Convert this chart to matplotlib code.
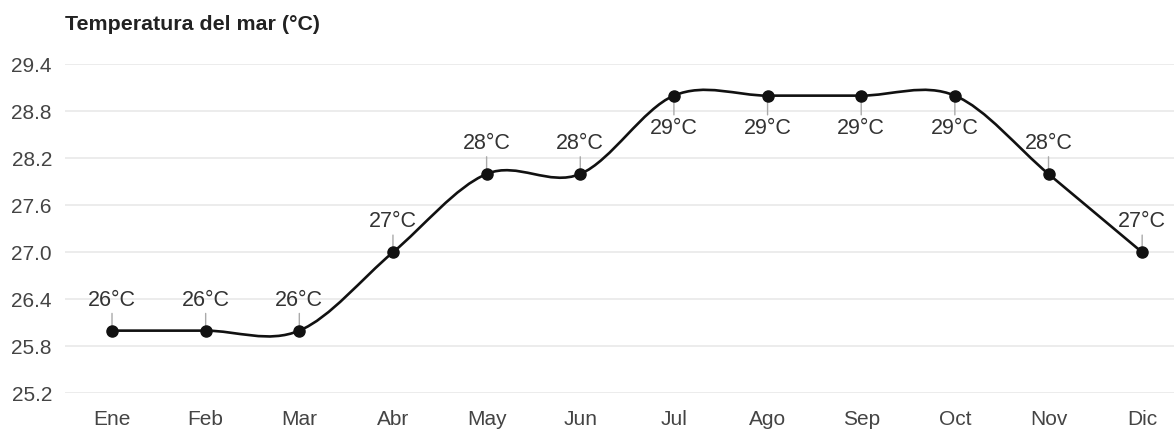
import matplotlib
matplotlib.use("Agg")
import matplotlib.pyplot as plt
from matplotlib.path import Path
from matplotlib.patches import PathPatch
import numpy as np

months = ["Ene", "Feb", "Mar", "Abr", "May", "Jun", "Jul", "Ago", "Sep", "Oct", "Nov", "Dic"]
temps = [26, 26, 26, 27, 28, 28, 29, 29, 29, 29, 28, 27]
labels = ["26°C", "26°C", "26°C", "27°C", "28°C", "28°C", "29°C", "29°C", "29°C", "29°C", "28°C", "27°C"]
yticks = [25.2, 25.8, 26.4, 27.0, 27.6, 28.2, 28.8, 29.4]
title = "Temperatura del mar (°C)"

plt.rcParams['font.family'] = ['Liberation Sans', 'DejaVu Sans']

W, H = 1174, 430
fig = plt.figure(figsize=(W / 100, H / 100), dpi=100)
left, right = 65 / W, 1.0
bottom, top = (H - 393.3) / H, (H - 64.3) / H
ax = fig.add_axes([left, bottom, right - left, top - bottom])

x = np.arange(len(temps), dtype=float)
y = np.array(temps, dtype=float)
n = len(x)

# smooth curve (Catmull-Rom style cubic Bezier)
tang = np.zeros(n)
for i in range(n):
    if 0 < i < n - 1:
        tang[i] = (y[i + 1] - y[i - 1]) / 2.0
    elif i == 0:
        tang[i] = y[1] - y[0]
    else:
        tang[i] = y[-1] - y[-2]
verts = [(x[0], y[0])]
codes = [Path.MOVETO]
for i in range(n - 1):
    dx = x[i + 1] - x[i]
    c1 = (x[i] + dx / 3, y[i] + tang[i] / 3)
    c2 = (x[i + 1] - dx / 3, y[i + 1] - tang[i + 1] / 3)
    verts += [c1, c2, (x[i + 1], y[i + 1])]
    codes += [Path.CURVE4] * 3
patch = PathPatch(Path(verts, codes), facecolor='none', edgecolor='#111111',
                  linewidth=1.9, zorder=3, capstyle='round', joinstyle='round')
ax.add_patch(patch)
ax.plot(x, y, 'o', color='#111111', markersize=8, zorder=4)

ymax = max(temps)
for xi, yi, lab in zip(x, y, labels):
    below = (yi == ymax)
    off = -22 if below else 20
    ax.annotate(lab, xy=(xi, yi), xytext=(0, off), textcoords='offset pixels',
                ha='center', va='top' if below else 'bottom',
                fontsize=15.5, color='#333333', zorder=2,
                arrowprops=dict(arrowstyle='-', color='#aaaaaa', lw=1.0,
                                shrinkA=0, shrinkB=0))

ax.set_xlim(-0.502, 11.34)
ax.set_ylim(25.2, 29.4)
ax.set_yticks(yticks)
ax.set_yticklabels([f"{t:.1f}" for t in yticks])
ax.set_xticks(x)
ax.set_xticklabels(months)
ax.grid(axis='y', color='#ebebeb', linewidth=1.3, zorder=0)
ax.set_axisbelow(True)
for s in ax.spines.values():
    s.set_visible(False)
ax.tick_params(axis='both', length=0, labelsize=15, colors='#444444')
ax.tick_params(axis='y', pad=9.4)
ax.tick_params(axis='x', pad=12)

fig.text(65 / W, 1 - 25 / H, title, fontsize=15.4, fontweight='bold',
         color='#222222', ha='left', va='center')

fig.savefig("out.png", dpi=100)
